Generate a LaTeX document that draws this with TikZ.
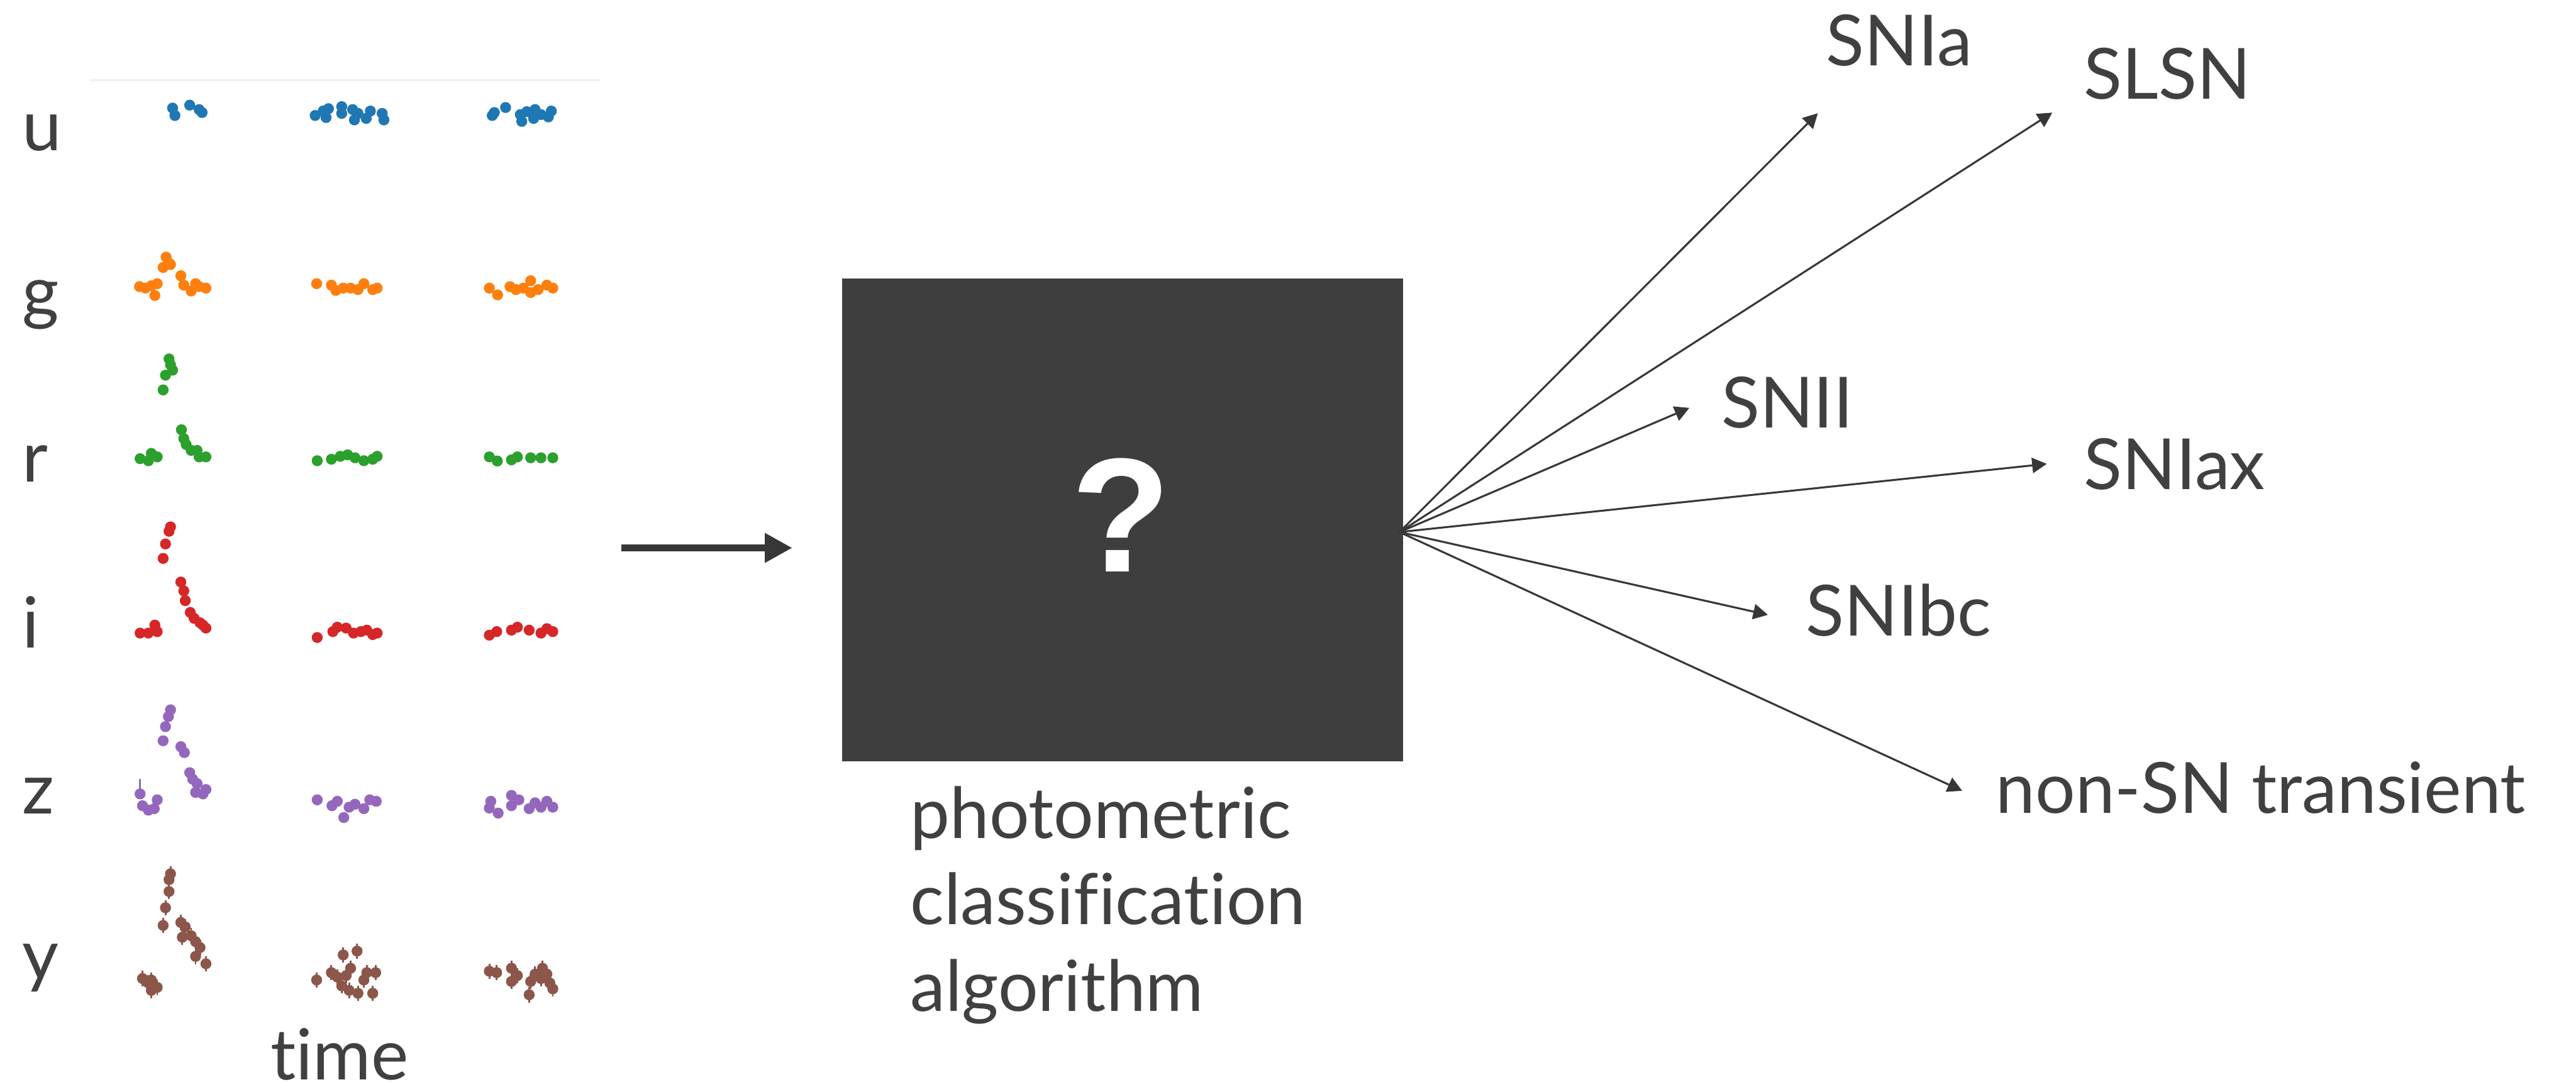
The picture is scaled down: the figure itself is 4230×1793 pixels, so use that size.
\documentclass[tikz,border=0pt]{standalone}
\usepackage{fontspec}
\setmainfont{Lato}[Ligatures={NoCommon,NoContextual}]
\newfontfamily\qfont{Liberation Sans}
\usetikzlibrary{arrows.meta}
\definecolor{txtgray}{RGB}{64,64,64}
\definecolor{boxgray}{RGB}{62,62,62}
\definecolor{arrgray}{RGB}{55,55,55}
\definecolor{axisgray}{RGB}{240,240,240}
\definecolor{lcblue}{HTML}{1F77B4}
\definecolor{lcorange}{HTML}{FF7F0E}
\definecolor{lcgreen}{HTML}{2CA02C}
\definecolor{lcred}{HTML}{D62728}
\definecolor{lcpurple}{HTML}{9467BD}
\definecolor{lcbrown}{HTML}{8C564B}
\newcommand\lcdots[2]{\foreach \p in {#2} {\fill[#1] \p circle[radius=0.9mm];}}
\newcommand\lcerr[2]{\foreach \p in {#2} {\fill[#1] \p circle[radius=0.9mm]; \draw[#1, line width=0.3mm] \p ++(0,-26) -- ++(0,52);}}
\tikzset{
  lab/.style={text=txtgray, inner sep=0pt, font=\fontsize{33pt}{40.4pt}\selectfont},
  fanarrow/.style={draw=arrgray, line width=0.32mm, -{Triangle[length=2.4mm,width=2.5mm]}},
  mainarrow/.style={draw=arrgray, line width=1.1mm, -{Triangle[length=4.5mm,width=4.6mm]}},
}
\begin{document}
\begin{tikzpicture}[x=0.1mm,y=-0.1mm]
\useasboundingbox (0,0) rectangle (4230,1793);
% faint top axis line of the light-curve panel
\draw[line width=0.3mm, draw=axisgray] (148,132) -- (985,132);
% band labels
\node[lab, anchor=base west] (bu) at (36,247) {u};
\node[lab, anchor=base west] (bg) at (36,520) {g};
\node[lab, anchor=base west] (br) at (36,792) {r};
\node[lab, anchor=base west] (bi) at (36,1064) {i};
\node[lab, anchor=base west] (bz) at (36,1337) {z};
\node[lab, anchor=base west] (by) at (36,1609) {y};
\node[lab, anchor=base west] (time) at (444,1774) {time};
% light curves u, g, r
\begin{scope}[shift={(200,100)}, x=0.04847mm, y=-0.04847mm]
\lcdots{lcblue}{(172,160),(180,185),(230,150),(262,165),(272,175)}
\lcdots{lcblue}{(655,185),(682,170),(692,192),(700,162),(745,155),(745,178),(782,165),(788,200),(800,178),(828,195),(842,170),(882,178),(888,200)}
\lcdots{lcblue}{(1255,185),(1262,175),(1300,158),(1350,182),(1355,205),(1372,172),(1395,195),(1400,165),(1420,182),(1445,190),(1455,170)}
\lcdots{lcorange}{(60,765),(80,770),(100,762),(112,795),(120,755),(150,665),(160,685),(140,700),(165,690),(200,728),(210,760),(235,780),(250,755),(262,765),(285,770)}
\lcdots{lcorange}{(660,755),(710,760),(725,778),(750,770),(775,770),(800,775),(820,755),(850,775),(865,770)}
\lcdots{lcorange}{(1245,770),(1273,793),(1315,765),(1335,775),(1360,770),(1385,745),(1385,785),(1410,775),(1440,760),(1460,770)}
\lcdots{lcgreen}{(160,1010),(165,1030),(172,1048),(148,1065),(140,1115),(62,1348),(90,1355),(100,1330),(120,1342),(202,1250),(210,1280),(218,1300),(235,1320),(255,1320),(262,1342),(285,1342)}
\lcdots{lcgreen}{(662,1355),(710,1350),(740,1340),(765,1335),(790,1345),(820,1355),(850,1350),(865,1340)}
\lcdots{lcgreen}{(1245,1342),(1272,1356),(1320,1352),(1340,1342),(1385,1345),(1420,1345),(1460,1345)}
\end{scope}
% light curves i, z
\begin{scope}[shift={(200,800)}, x=0.04847mm, y=-0.04847mm]
\lcdots{lcred}{(165,135),(160,150),(148,193),(140,242),(200,322),(210,352),(215,385),(232,425),(245,445),(265,460),(275,468),(285,478),(62,495),(90,495),(112,468),(120,490)}
\lcdots{lcred}{(662,510),(715,490),(730,475),(760,478),(785,495),(810,490),(830,485),(850,500),(865,495)}
\lcdots{lcred}{(1245,502),(1270,490),(1320,485),(1340,475),(1380,485),(1420,495),(1440,480),(1460,490)}
\draw[lcpurple, line width=0.3mm] (62,990) -- (62,1040);
\lcdots{lcpurple}{(165,755),(158,778),(148,812),(140,860),(200,880),(212,900),(230,968),(240,990),(255,1005),(250,1035),(275,1040),(285,1025),(62,1040),(70,1080),(90,1095),(110,1090),(120,1060)}
\lcdots{lcpurple}{(662,1060),(712,1080),(730,1065),(752,1120),(770,1085),(790,1075),(820,1090),(840,1060),(862,1065)}
\lcdots{lcpurple}{(1250,1065),(1245,1088),(1275,1105),(1320,1045),(1320,1080),(1345,1060),(1380,1090),(1400,1070),(1420,1085),(1440,1065),(1460,1085)}
\end{scope}
% light curves y (with error bars)
\begin{scope}[shift={(200,1033)}, x=0.04847mm, y=-0.04847mm]
\lcerr{lcbrown}{(165,830),(160,850),(160,890),(148,945),(140,1005),(200,995),(215,1010),(205,1045),(235,1040),(250,1060),(265,1080),(250,1110),(285,1135),(70,1185),(90,1200),(100,1190),(120,1215),(100,1225)}
\lcerr{lcbrown}{(660,1190),(750,1105),(797,1092),(710,1165),(730,1180),(760,1175),(775,1150),(745,1210),(770,1225),(800,1235),(830,1165),(860,1165),(850,1235),(820,1190)}
\lcerr{lcbrown}{(1245,1160),(1270,1165),(1320,1150),(1320,1195),(1340,1175),(1380,1240),(1385,1195),(1400,1170),(1425,1150),(1440,1170),(1450,1200),(1460,1220),(1420,1185)}
\end{scope}
% main arrow
\coordinate (lcout) at (1020,900);
\coordinate (boxin) at (1301,900);
\draw[mainarrow] (lcout) -- (boxin);
% black box
\node[fill=boxgray, inner sep=0pt, minimum width=92.1mm, minimum height=79.3mm, anchor=north west] (box) at (1382,457) {};
\node[text=white, inner sep=0pt, anchor=base, font=\qfont\bfseries\fontsize{76pt}{80pt}\selectfont] (qmark) at (1841,939) {?};
\node[lab, align=left, anchor=base west] (algo) at (1494,1661) {photometric\\classification\\algorithm};
% fan of outputs
\coordinate (fan) at (2298,874);
\coordinate (tIa) at (2985,186);
\coordinate (tSL) at (3370,185);
\coordinate (tII) at (2774,670);
\coordinate (tIax) at (3361,762);
\coordinate (tIbc) at (2903,1010);
\coordinate (tNon) at (3222,1299);
\draw[fanarrow] (fan) -- (tIa);
\draw[fanarrow] (fan) -- (tSL);
\draw[fanarrow] (fan) -- (tII);
\draw[fanarrow] (fan) -- (tIax);
\draw[fanarrow] (fan) -- (tIbc);
\draw[fanarrow] (fan) -- (tNon);
\node[lab, anchor=base west] (SNIa) at (2998,108) {SNIa};
\node[lab, anchor=base west] (SLSN) at (3421,163) {SLSN};
\node[lab, anchor=base west] (SNII) at (2826,703) {SNII};
\node[lab, anchor=base west] (SNIax) at (3421,804) {SNIax};
\node[lab, anchor=base west] (SNIbc) at (2965,1045) {SNIbc};
\node[lab, anchor=base west] (nonSN) at (3277,1336) {non-SN transient};
\end{tikzpicture}
\end{document}
